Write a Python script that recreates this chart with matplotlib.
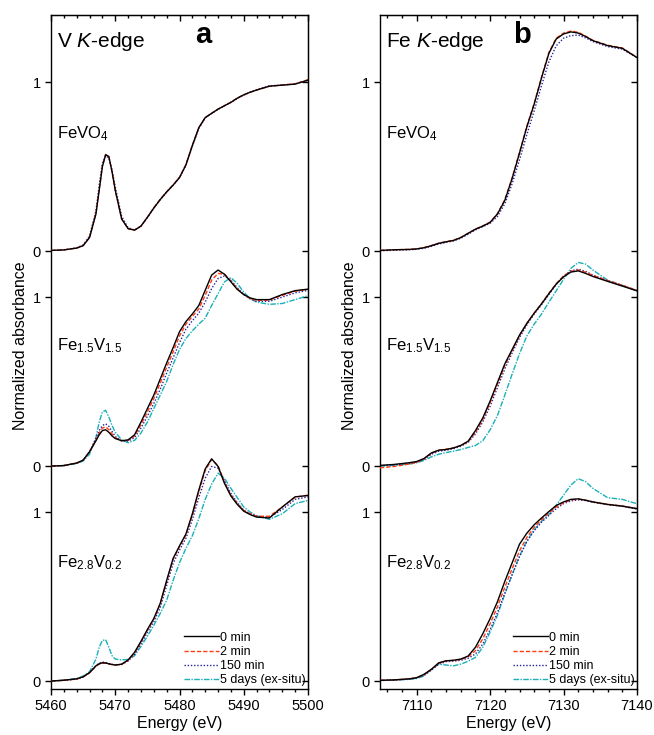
import numpy as np
import matplotlib
matplotlib.use('Agg')
from matplotlib import pyplot as plt
from matplotlib.ticker import MultipleLocator, NullFormatter

plt.rcParams['font.family'] = 'Liberation Sans'
plt.rcParams['mathtext.fontset'] = 'custom'
plt.rcParams['mathtext.rm'] = 'Liberation Sans'
plt.rcParams['mathtext.it'] = 'Liberation Sans:italic'
plt.rcParams['mathtext.bf'] = 'Liberation Sans:bold'

# ---- V K-edge ----
v_energy = [5460, 5462, 5464, 5465, 5466, 5467, 5467.5, 5468, 5468.5, 5469, 5469.5,
            5470, 5471, 5472, 5473, 5474, 5475, 5476, 5477, 5478, 5479, 5480, 5481,
            5482, 5483, 5484, 5485, 5486, 5487, 5488, 5489, 5490, 5491, 5492, 5494,
            5496, 5498, 5500]

v_fevo4_0 = [0.004, 0.007, 0.018, 0.032, 0.08, 0.22, 0.36, 0.50, 0.57, 0.56, 0.47, 0.36, 0.19,
             0.133, 0.124, 0.148, 0.20, 0.255, 0.305, 0.35, 0.39, 0.435, 0.51, 0.625, 0.73, 0.79,
             0.815, 0.84, 0.86, 0.88, 0.905, 0.925, 0.94, 0.953, 0.976, 0.982, 0.988, 1.012]
v_fevo4_2 = [0.004, 0.007, 0.018, 0.033, 0.082, 0.225, 0.365, 0.505, 0.572, 0.56, 0.47, 0.36, 0.19,
             0.132, 0.124, 0.148, 0.2, 0.256, 0.306, 0.35, 0.392, 0.437, 0.512, 0.627, 0.73, 0.79,
             0.815, 0.84, 0.861, 0.882, 0.905, 0.924, 0.94, 0.953, 0.975, 0.983, 0.99, 1.014]
v_fevo4_150 = [0.004, 0.008, 0.02, 0.036, 0.09, 0.24, 0.39, 0.52, 0.565, 0.55, 0.48, 0.38, 0.205,
               0.138, 0.125, 0.146, 0.198, 0.254, 0.305, 0.35, 0.39, 0.435, 0.508, 0.62, 0.725, 0.788,
               0.815, 0.838, 0.86, 0.88, 0.903, 0.923, 0.94, 0.955, 0.978, 0.982, 0.99, 1.01]

v_fe15_0 = [0.0, 0.003, 0.018, 0.035, 0.085, 0.15, 0.185, 0.21, 0.215, 0.2, 0.178, 0.163, 0.15,
            0.155, 0.185, 0.26, 0.34, 0.42, 0.515, 0.61, 0.70, 0.795, 0.855, 0.90, 0.95, 1.04,
            1.13, 1.16, 1.135, 1.09, 1.045, 1.015, 0.995, 0.985, 0.985, 1.015, 1.038, 1.047]
v_fe15_2 = [0.0, 0.003, 0.018, 0.035, 0.085, 0.155, 0.195, 0.225, 0.232, 0.215, 0.19, 0.168, 0.15,
            0.152, 0.178, 0.245, 0.32, 0.40, 0.49, 0.585, 0.675, 0.77, 0.84, 0.885, 0.93, 1.01,
            1.10, 1.14, 1.135, 1.095, 1.05, 1.015, 0.99, 0.98, 0.983, 1.01, 1.035, 1.045]
v_fe15_150 = [0.0, 0.003, 0.018, 0.035, 0.085, 0.165, 0.21, 0.24, 0.25, 0.235, 0.205, 0.175, 0.148,
              0.148, 0.168, 0.225, 0.295, 0.37, 0.455, 0.55, 0.64, 0.73, 0.81, 0.86, 0.905, 0.97,
              1.05, 1.11, 1.125, 1.10, 1.055, 1.015, 0.99, 0.975, 0.975, 1.0, 1.025, 1.04]
v_fe15_5d = [0.0, 0.003, 0.015, 0.03, 0.07, 0.17, 0.26, 0.32, 0.33, 0.29, 0.24, 0.2, 0.155,
             0.138, 0.152, 0.195, 0.26, 0.34, 0.42, 0.50, 0.60, 0.69, 0.755, 0.80, 0.84, 0.875,
             0.95, 1.02, 1.09, 1.115, 1.08, 1.03, 0.99, 0.97, 0.957, 0.962, 0.985, 1.008]

v_fe28_0 = [0.0, 0.005, 0.013, 0.025, 0.05, 0.09, 0.102, 0.108, 0.107, 0.102, 0.098, 0.095, 0.1,
            0.125, 0.17, 0.235, 0.305, 0.37, 0.46, 0.595, 0.725, 0.80, 0.87, 0.99, 1.13, 1.255,
            1.315, 1.27, 1.17, 1.095, 1.045, 1.005, 0.985, 0.97, 0.965, 1.03, 1.09, 1.098]
v_fe28_2 = [0.0, 0.004, 0.012, 0.024, 0.048, 0.088, 0.1, 0.106, 0.106, 0.101, 0.097, 0.094, 0.099,
            0.122, 0.165, 0.23, 0.3, 0.365, 0.455, 0.59, 0.72, 0.795, 0.865, 0.98, 1.12, 1.245,
            1.31, 1.275, 1.175, 1.1, 1.05, 1.01, 0.99, 0.975, 0.975, 1.03, 1.088, 1.1]
v_fe28_150 = [0.0, 0.004, 0.012, 0.024, 0.05, 0.092, 0.106, 0.112, 0.11, 0.104, 0.099, 0.095, 0.098,
              0.118, 0.158, 0.22, 0.288, 0.352, 0.435, 0.565, 0.695, 0.775, 0.845, 0.955, 1.085, 1.2,
              1.27, 1.26, 1.185, 1.11, 1.055, 1.01, 0.99, 0.975, 0.97, 1.015, 1.075, 1.09]
v_fe28_5d = [0.0, 0.005, 0.015, 0.03, 0.055, 0.13, 0.2, 0.24, 0.245, 0.2, 0.15, 0.13, 0.125,
             0.128, 0.15, 0.205, 0.265, 0.33, 0.40, 0.478, 0.595, 0.70, 0.785, 0.86, 0.96, 1.075,
             1.165, 1.23, 1.2, 1.14, 1.085, 1.03, 1.0, 0.978, 0.957, 0.99, 1.05, 1.069]

# ---- Fe K-edge ----
fe_energy = [7105, 7107, 7109, 7110, 7111, 7112, 7113, 7114, 7115, 7116, 7117, 7118, 7119,
             7120, 7121, 7122, 7123, 7124, 7125, 7126, 7127, 7128, 7129, 7130, 7131, 7132,
             7133, 7134, 7136, 7138, 7140]

fe_fevo4_0 = [0.004, 0.008, 0.01, 0.013, 0.02, 0.032, 0.046, 0.055, 0.063, 0.08, 0.105, 0.13, 0.148,
              0.17, 0.22, 0.30, 0.43, 0.58, 0.735, 0.87, 1.025, 1.17, 1.255, 1.285, 1.297, 1.29,
              1.27, 1.245, 1.216, 1.20, 1.145]
fe_fevo4_2 = [0.004, 0.008, 0.01, 0.013, 0.021, 0.033, 0.047, 0.056, 0.064, 0.081, 0.106, 0.13, 0.149,
              0.172, 0.222, 0.305, 0.435, 0.585, 0.74, 0.875, 1.03, 1.175, 1.26, 1.29, 1.302, 1.295,
              1.272, 1.247, 1.218, 1.202, 1.146]
fe_fevo4_150 = [0.002, 0.005, 0.008, 0.011, 0.017, 0.028, 0.042, 0.052, 0.06, 0.076, 0.1, 0.125, 0.145,
                0.165, 0.205, 0.28, 0.40, 0.54, 0.69, 0.83, 0.98, 1.12, 1.215, 1.26, 1.275, 1.278,
                1.262, 1.24, 1.21, 1.195, 1.145]

fe_fe15_0 = [0.004, 0.01, 0.02, 0.027, 0.045, 0.078, 0.094, 0.098, 0.107, 0.122, 0.147, 0.21, 0.285,
             0.385, 0.495, 0.605, 0.69, 0.775, 0.845, 0.905, 0.96, 1.02, 1.077, 1.12, 1.148, 1.155,
             1.14, 1.122, 1.093, 1.065, 1.037]
fe_fe15_2 = [-0.01, -0.002, 0.012, 0.022, 0.042, 0.076, 0.094, 0.1, 0.108, 0.122, 0.145, 0.2, 0.275,
             0.375, 0.485, 0.595, 0.685, 0.772, 0.843, 0.905, 0.962, 1.022, 1.08, 1.125, 1.153, 1.16,
             1.147, 1.128, 1.098, 1.07, 1.04]
fe_fe15_150 = [0.002, 0.008, 0.017, 0.024, 0.04, 0.07, 0.088, 0.094, 0.103, 0.117, 0.14, 0.19, 0.262,
               0.355, 0.465, 0.575, 0.67, 0.76, 0.835, 0.9, 0.955, 1.015, 1.075, 1.125, 1.155, 1.165,
               1.152, 1.13, 1.097, 1.068, 1.038]
fe_fe15_5d = [0.0, 0.004, 0.012, 0.02, 0.033, 0.055, 0.07, 0.08, 0.088, 0.098, 0.11, 0.122, 0.15,
              0.215, 0.30, 0.42, 0.545, 0.665, 0.77, 0.84, 0.9, 0.97, 1.037, 1.105, 1.17, 1.205,
              1.195, 1.16, 1.1, 1.07, 1.037]

fe_fe28_0 = [0.004, 0.007, 0.013, 0.02, 0.04, 0.07, 0.108, 0.12, 0.123, 0.13, 0.148, 0.2, 0.28,
             0.37, 0.47, 0.59, 0.70, 0.81, 0.875, 0.925, 0.965, 1.003, 1.039, 1.06, 1.075, 1.078,
             1.07, 1.06, 1.045, 1.035, 1.02]
fe_fe28_2 = [0.004, 0.007, 0.013, 0.02, 0.038, 0.068, 0.105, 0.119, 0.122, 0.128, 0.143, 0.18, 0.25,
             0.34, 0.44, 0.555, 0.665, 0.77, 0.85, 0.91, 0.955, 0.995, 1.03, 1.055, 1.072, 1.076,
             1.07, 1.06, 1.046, 1.036, 1.02]
fe_fe28_150 = [0.003, 0.006, 0.012, 0.018, 0.035, 0.064, 0.1, 0.115, 0.118, 0.123, 0.135, 0.16, 0.22,
               0.305, 0.405, 0.52, 0.63, 0.735, 0.825, 0.89, 0.94, 0.98, 1.02, 1.05, 1.066, 1.072,
               1.068, 1.058, 1.044, 1.034, 1.018]
fe_fe28_5d = [0.004, 0.006, 0.01, 0.015, 0.03, 0.07, 0.1, 0.095, 0.09, 0.1, 0.117, 0.14, 0.2,
              0.29, 0.39, 0.515, 0.63, 0.74, 0.83, 0.895, 0.945, 0.985, 1.04, 1.1, 1.16, 1.197,
              1.18, 1.14, 1.085, 1.075, 1.049]

times = ['0 min', '2 min', '150 min', '5 days (ex-situ)']
colors = ['black', '#ff3a10', '#2323a0', '#1ab0b8']
styles = ['-', (0, (3, 1.5)), (0, (1, 1.3)), (0, (4, 1, 1, 1))]
zorders = [4, 3, 2, 1]

samples = ['FeVO$_4$', 'Fe$_{1.5}$V$_{1.5}$', 'Fe$_{2.8}$V$_{0.2}$']
offsets = [2.544, 1.272, 0.0]

v_stacks = [[v_fevo4_0, v_fevo4_2, v_fevo4_150, None],
            [v_fe15_0, v_fe15_2, v_fe15_150, v_fe15_5d],
            [v_fe28_0, v_fe28_2, v_fe28_150, v_fe28_5d]]
fe_stacks = [[fe_fevo4_0, fe_fevo4_2, fe_fevo4_150, None],
             [fe_fe15_0, fe_fe15_2, fe_fe15_150, fe_fe15_5d],
             [fe_fe28_0, fe_fe28_2, fe_fe28_150, fe_fe28_5d]]

fig = plt.figure(figsize=(6.54, 7.35), dpi=100)
ax_a = fig.add_axes([51/654, 46/735, 257/654, 674/735])
ax_b = fig.add_axes([380/654, 46/735, 257/654, 674/735])


def draw(ax, energy, stacks, xlim, xticks, edge, letter, letter_x):
    for off, series in zip(offsets, stacks):
        for i, y in enumerate(series):
            if y is None:
                continue
            ax.plot(energy, np.array(y) + off, color=colors[i], ls=styles[i], lw=1.0,
                    zorder=zorders[i], label=times[i] if off == 0 else None)
    ax.set_xlim(xlim)
    ax.set_ylim(-0.047, 3.941)
    yt = [o + d for o in offsets for d in (0, 1)]
    ax.set_yticks(yt)
    ax.set_yticklabels(['0', '1'] * 3)
    ax.set_xticks(xticks)
    ax.xaxis.set_minor_locator(MultipleLocator(2))
    ax.tick_params(which='both', direction='out', width=1.0, labelsize=10.5)
    ax.tick_params(which='major', length=4)
    ax.tick_params(which='minor', length=2.5)
    for s in ax.spines.values():
        s.set_linewidth(1.0)

    top = ax.secondary_xaxis('top')
    top.set_xticks(xticks)
    top.xaxis.set_minor_locator(MultipleLocator(2))
    top.xaxis.set_major_formatter(NullFormatter())
    top.tick_params(which='both', direction='in', width=1.0)
    top.tick_params(which='major', length=4)
    top.tick_params(which='minor', length=2.5)
    right = ax.secondary_yaxis('right')
    right.set_yticks(yt)
    right.yaxis.set_major_formatter(NullFormatter())
    right.tick_params(direction='in', length=4, width=1.0)

    x0 = xlim[0] + 0.022 * (xlim[1] - xlim[0])
    label_y = [3.21, 1.96, 0.675]
    for name, ly in zip(samples, label_y):
        ax.text(x0, ly, name, fontsize=12)
    ax.text(x0, 3.753, edge, fontsize=15)
    ax.text(letter_x, 3.775, letter, fontsize=21, fontweight='bold', ha='center')

    ax.set_xlabel('Energy (eV)', fontsize=11.5, labelpad=2)
    ax.set_ylabel('Normalized absorbance', fontsize=11.5)
    ax.yaxis.set_label_coords(-0.088, 0.51)
    ax.legend(loc='lower right', frameon=False, fontsize=9, handlelength=2.8,
              handletextpad=0.1, labelspacing=0.18, borderaxespad=0.05, borderpad=0.15)


draw(ax_a, v_energy, v_stacks, (5460, 5500), [5460, 5470, 5480, 5490, 5500],
     r'V $\mathit{K}$-edge', 'a', 5483.7)
draw(ax_b, fe_energy, fe_stacks, (7105, 7140), [7110, 7120, 7130, 7140],
     r'Fe $\mathit{K}$-edge', 'b', 7124.4)

fig.savefig('out.png', dpi=100)
